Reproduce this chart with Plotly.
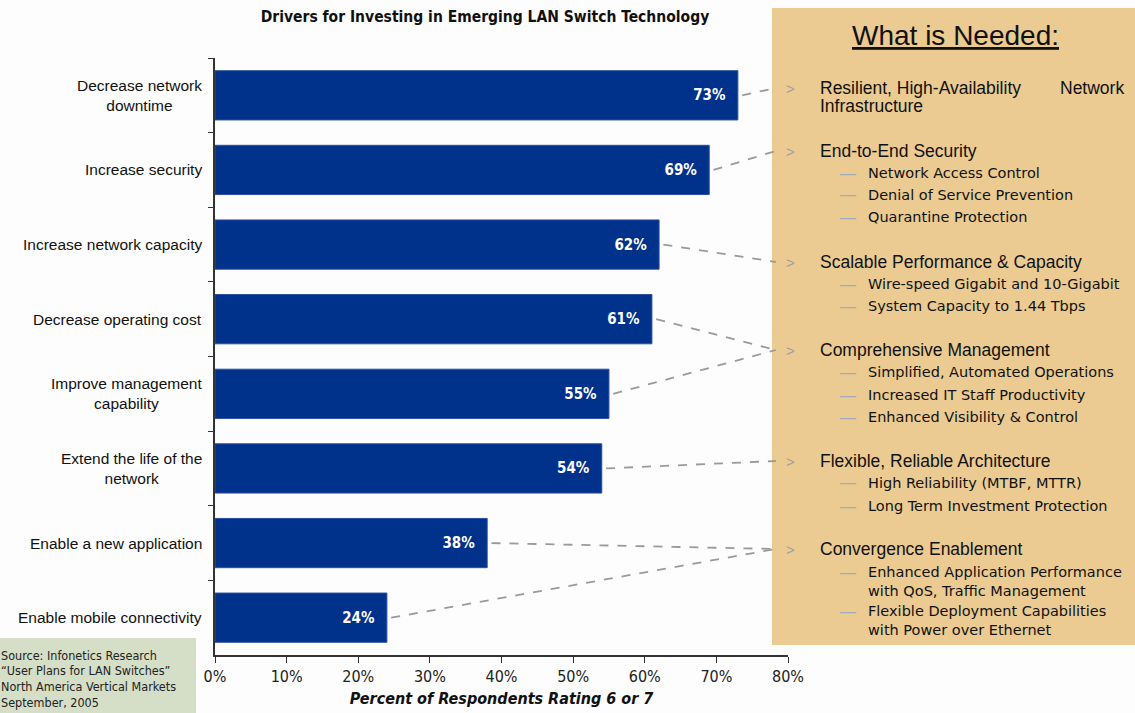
import plotly.graph_objects as go

# Survey results: share of respondents rating each driver 6 or 7
drivers = [
    "Decrease network<br>downtime",
    "Increase security",
    "Increase network capacity",
    "Decrease operating cost",
    "Improve management<br>capability",
    "Extend the life of the<br>network",
    "Enable a new application",
    "Enable mobile connectivity",
]
percent = [73, 69, 62, 61, 55, 54, 38, 24]
x_ticks = [0, 10, 20, 30, 40, 50, 60, 70, 80]

# Right-hand panel: needs, their bullet lists, and which driver feeds which need
needs = [
    "Resilient, High-Availability",
    "End-to-End Security",
    "Scalable Performance & Capacity",
    "Comprehensive Management",
    "Flexible, Reliable Architecture",
    "Convergence Enablement",
]
need_details = [
    [],
    ["Network Access Control", "Denial of Service Prevention", "Quarantine Protection"],
    ["Wire-speed Gigabit and 10-Gigabit", "System Capacity to 1.44 Tbps"],
    ["Simplified, Automated Operations", "Increased IT Staff Productivity",
     "Enhanced Visibility & Control"],
    ["High Reliability (MTBF, MTTR)", "Long Term Investment Protection"],
    ["Enhanced Application Performance<br>with QoS, Traffic Management",
     "Flexible Deployment Capabilities<br>with Power over Ethernet"],
]
driver_to_need = [0, 1, 2, 3, 3, 4, 5, 5]

source_lines = [
    "Source: Infonetics Research",
    "\u201cUser Plans for LAN Switches\u201d",
    "North America Vertical Markets",
    "September, 2005",
]

W, H = 1135, 713
L, R, T, B = 215, 347, 58, 58
PW, PH = W - L - R, H - T - B

NARROW = "DejaVu Sans Condensed, Liberation Sans Narrow, Arial Narrow, sans-serif"
ARIAL = "Liberation Sans, Arial, sans-serif"
BAR = "#00318B"
PANEL = "#EBCB91"
GREY = "#9A9FA8"


def px(xp):
    return (xp - L) / PW


def py(yp):
    return (H - B - yp) / PH


def cat_y(yp):
    # pixel row -> category-axis coordinate (category 0 at the top)
    step = PH / len(drivers)
    return (yp - T) / step - 0.5


def note(x, y, text, size, color="#111", family=ARIAL, xanchor="left",
         align="left", yref="paper"):
    return dict(xref="paper", yref=yref, x=x, y=y, text=text, showarrow=False,
                xanchor=xanchor, yanchor="middle", align=align,
                font=dict(family=family, size=size, color=color))


fig = go.Figure()
fig.add_trace(go.Bar(
    x=percent, y=drivers, orientation="h",
    marker=dict(color=BAR, line=dict(color="#2B4FA0", width=1)),
    width=0.66,
    text=[f"{v}%\u00a0\u00a0" for v in percent],
    textposition="inside", insidetextanchor="end",
    textfont=dict(family=NARROW, size=15, color="white", weight="bold"),
    cliponaxis=False,
    hoverinfo="skip",
))

shapes = []
annotations = []

# tan "What is Needed" panel and source box
shapes.append(dict(type="rect", xref="paper", yref="paper",
                   x0=px(772), x1=px(1140), y0=py(645), y1=py(8),
                   fillcolor=PANEL, line=dict(width=0), layer="below"))
shapes.append(dict(type="rect", xref="paper", yref="paper",
                   x0=px(-5), x1=px(196), y0=py(718), y1=py(638),
                   fillcolor="#D5DEC6", line=dict(width=0), layer="below"))

annotations.append(note(px(955), py(35), "<u>What is Needed:</u>", 28,
                        xanchor="center", align="center"))

need_rows = [88, 151, 262, 350, 461, 549]
need_detail_rows = [[], [173, 195, 217], [284, 306], [372, 395, 417],
                    [483, 506], [581, 620]]
for i, (name, row) in enumerate(zip(needs, need_rows)):
    annotations.append(note(px(790), py(row), ">", 15, color=GREY, xanchor="center"))
    annotations.append(note(px(818), py(row), name, 17.5))
    for det, drow in zip(need_details[i], need_detail_rows[i]):
        dash_row = drow - 9 if "<br>" in det else drow
        annotations.append(note(px(848), py(dash_row), "\u2014", 16,
                                color="#A3ABBA", xanchor="center"))
        annotations.append(note(px(866), py(drow), det, 14.5,
                                family="DejaVu Sans, sans-serif"))

# second half of the justified first heading
annotations.append(note(px(1126), py(88), "Network", 17.5, xanchor="right"))
annotations.append(note(px(818), py(106), "Infrastructure", 17.5))

# dashed connectors from each bar end to its need
for i, (v, n) in enumerate(zip(percent, driver_to_need)):
    shapes.append(dict(type="line", xref="x", yref="y",
                       x0=v + 0.6, y0=i, x1=78.3, y1=cat_y(need_rows[n]),
                       line=dict(color="#9A9A9A", width=1.8, dash="dash")))

# driver labels, centred line by line and right-aligned to the axis
for d in drivers:
    annotations.append(note(px(204), d, d, 15.5, xanchor="right",
                            align="center", yref="y"))

# source note
for k, line in enumerate(source_lines):
    annotations.append(note(px(-1), py(655 + k * 15.7), line, 12.5,
                            color="#222", family=NARROW))

fig.update_layout(
    width=W, height=H,
    margin=dict(l=L, r=R, t=T, b=B, autoexpand=False),
    paper_bgcolor="#FDFDFD", plot_bgcolor="#FDFDFD",
    showlegend=False,
    title=dict(text="<b>Drivers for Investing in Emerging LAN Switch Technology</b>",
               x=485 / W, xref="container", xanchor="center",
               y=1 - 17 / H, yref="container", yanchor="middle",
               font=dict(family=NARROW, size=15.5, color="#111")),
    xaxis=dict(range=[0, 80], tickvals=x_ticks,
               ticktext=[f"{t}%" for t in x_ticks],
               showgrid=False, zeroline=False,
               showline=True, linecolor="#333", linewidth=1.5,
               ticks="outside", ticklen=6, tickcolor="#333",
               tickfont=dict(family=NARROW, size=16, color="#222"),
               title=dict(text="<b><i>Percent of Respondents Rating 6 or 7</i></b>",
                          font=dict(family=NARROW, size=16, color="#111"),
                          standoff=8)),
    yaxis=dict(type="category", categoryorder="array", categoryarray=drivers,
               range=[len(drivers) - 0.5, -0.5],
               showticklabels=False, showgrid=False, zeroline=False,
               showline=True, linecolor="#333", linewidth=1.5,
               ticks="outside", ticklen=5, tickcolor="#333",
               tickson="boundaries"),
    shapes=shapes,
    annotations=annotations,
)

fig.write_html("out.html")
